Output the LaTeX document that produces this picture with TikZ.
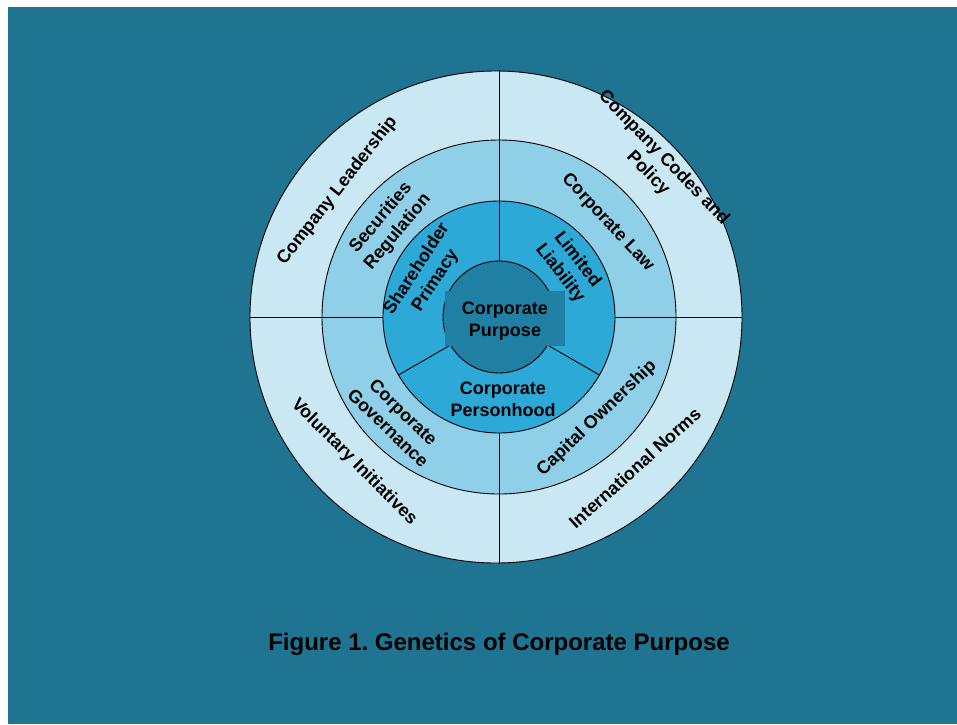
\documentclass[tikz,border=0pt]{standalone}
\usepackage{fontspec}
\setmainfont{Liberation Sans}
\frenchspacing
\definecolor{bgteal}{HTML}{1F7491}
\definecolor{corecol}{HTML}{1F80A3}
\definecolor{innercol}{HTML}{2CA9D7}
\definecolor{midcol}{HTML}{8FD0E8}
\definecolor{outercol}{HTML}{C9E8F3}
\tikzset{
  ring/.style={draw=black, line width=0.9pt},
  sep/.style={draw=black, line width=0.9pt},
  lbl/.style={font=\bfseries\fontsize{18}{22}\selectfont, align=center, text=black, inner sep=0pt},
  ttl/.style={font=\bfseries\fontsize{24}{28}\selectfont, text=black, inner sep=0pt}
}
\begin{document}
\begin{tikzpicture}[x=1pt,y=1pt]
\useasboundingbox (-499,-407) rectangle (458,317);
\fill[white] (-499,-407) rectangle (458,317);
\fill[bgteal] (-491,-407) rectangle (458,310);
% rings
\filldraw[ring, fill=outercol] (-3,0) circle (246);
\filldraw[ring, fill=midcol] (0,0) circle (177);
\filldraw[ring, fill=innercol] (0,0) circle (116);
% outer separators
\coordinate (o1) at (0,247); \coordinate (o1i) at (90:177);
\coordinate (o2) at (0,-247); \coordinate (o2i) at (-90:177);
\coordinate (o3) at (-249,0); \coordinate (o3i) at (180:177);
\coordinate (o4) at (243,0); \coordinate (o4i) at (0:177);
\draw[sep] (o1) -- (o1i); \draw[sep] (o2) -- (o2i);
\draw[sep] (o3) -- (o3i); \draw[sep] (o4) -- (o4i);
% middle separators
\coordinate (m1) at (90:116); \coordinate (m2) at (-90:116);
\coordinate (m3) at (180:116); \coordinate (m4) at (0:116);
\draw[sep] (o1i) -- (m1); \draw[sep] (o2i) -- (m2);
\draw[sep] (o3i) -- (m3); \draw[sep] (o4i) -- (m4);
% inner separators
\coordinate (c1) at (90:56); \coordinate (c2) at (-30:56); \coordinate (c3) at (210:56);
\coordinate (i2) at (-30:116); \coordinate (i3) at (210:116);
\draw[sep] (c1) -- (m1); \draw[sep] (c2) -- (i2); \draw[sep] (c3) -- (i3);
% core
\filldraw[ring, fill=corecol] (0,0) circle (56);
\fill[corecol] (-54,26) rectangle (66,-29);
\node[lbl] (core) at (6,-4.5) {Corporate\\Purpose};
% labels
\node[lbl, rotate=52] (cl) at (142:205) {Company Leadership};
\node[lbl, rotate=50] (sr) at (140:143) {Securities\\Regulation};
\node[lbl, rotate=57] (sp) at (150:84) {Shareholder\\Primacy};
\node[lbl, rotate=-52] (ll) at (36:86) {Limited\\Liability};
\node[lbl, rotate=-47] (law) at (41:144) {Corporate Law};
\node[lbl, rotate=-46] (ccp) at (44:218) {Company Codes and\\Policy};
\node[lbl] (cp) at (4,-82) {Corporate\\Personhood};
\node[lbl, rotate=-44] (cg) at (-135:146) {Corporate\\Governance};
\node[lbl, rotate=-45] (vi) at (-135:205) {Voluntary Initiatives};
\node[lbl, rotate=44] (co) at (-46:141) {Capital Ownership};
\node[lbl, rotate=42] (in) at (-48:203) {International Norms};
% title
\node[ttl] (title) at (0,-327) {Figure 1. Genetics of Corporate Purpose};
\end{tikzpicture}
\end{document}
